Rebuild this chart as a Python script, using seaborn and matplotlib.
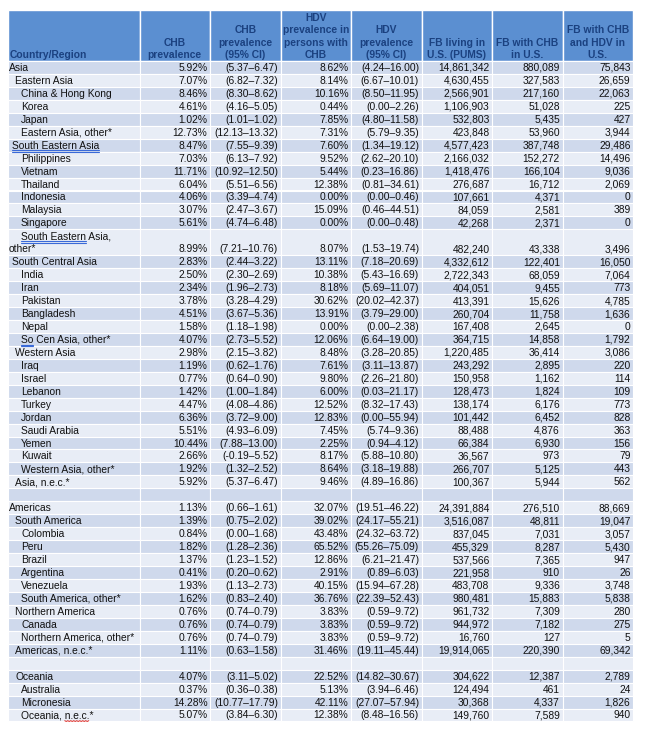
import matplotlib
matplotlib.use("Agg")
import matplotlib.pyplot as plt
from matplotlib.patches import Rectangle
import numpy as np
import seaborn as sns

sns.set_theme(style="white")
plt.rcParams["font.family"] = ["Liberation Sans", "DejaVu Sans"]

# ---- data ----
headers = ["Country/Region", "CHB\nprevalence", "CHB\nprevalence\n(95% CI)",
           "HDV\nprevalence in\npersons with\nCHB", "HDV\nprevalence\n(95% CI)",
           "FB living in\nU.S. (PUMS)", "FB with CHB\nin U.S.", "FB with CHB\nand HDV in\nU.S."]

regions = ["Asia", "Eastern Asia", "China & Hong Kong", "Korea", "Japan", "Eastern Asia, other*",
           "South Eastern Asia", "Philippines", "Vietnam", "Thailand", "Indonesia", "Malaysia",
           "Singapore", "South Eastern Asia,\nother*", "South Central Asia", "India", "Iran",
           "Pakistan", "Bangladesh", "Nepal", "So Cen Asia, other*", "Western Asia", "Iraq",
           "Israel", "Lebanon", "Turkey", "Jordan", "Saudi Arabia", "Yemen", "Kuwait",
           "Western Asia, other*", "Asia, n.e.c.*", "",
           "Americas", "South America", "Colombia", "Peru", "Brazil", "Argentina", "Venezuela",
           "South America, other*", "Northern America", "Canada", "Northern America, other*",
           "Americas, n.e.c.*", "",
           "Oceania", "Australia", "Micronesia", "Oceania, n.e.c.*"]

levels = [0, 1, 2, 2, 2, 2, 0.5, 2, 2, 2, 2, 2, 2, 2, 0.5, 2, 2, 2, 2, 2, 2, 1, 2, 2, 2, 2,
          2, 2, 2, 2, 2, 1, 0,
          0, 1, 2, 2, 2, 2, 2, 2, 1, 2, 2, 1, 0,
          1, 2, 2, 2]

chb = [5.92, 7.07, 8.46, 4.61, 1.02, 12.73, 8.47, 7.03, 11.71, 6.04, 4.06, 3.07, 5.61, 8.99,
       2.83, 2.50, 2.34, 3.78, 4.51, 1.58, 4.07, 2.98, 1.19, 0.77, 1.42, 4.47, 6.36, 5.51,
       10.44, 2.66, 1.92, 5.92, None,
       1.13, 1.39, 0.84, 1.82, 1.37, 0.41, 1.93, 1.62, 0.76, 0.76, 0.76, 1.11, None,
       4.07, 0.37, 14.28, 5.07]
chb_lo = [5.37, 6.82, 8.30, 4.16, 1.01, 12.13, 7.55, 6.13, 10.92, 5.51, 3.39, 2.47, 4.74, 7.21,
          2.44, 2.30, 1.96, 3.28, 3.67, 1.18, 2.73, 2.15, 0.62, 0.64, 1.00, 4.08, 3.72, 4.93,
          7.88, -0.19, 1.32, 5.37, None,
          0.66, 0.75, 0.00, 1.28, 1.23, 0.20, 1.13, 0.83, 0.74, 0.74, 0.74, 0.63, None,
          3.11, 0.36, 10.77, 3.84]
chb_hi = [6.47, 7.32, 8.62, 5.05, 1.02, 13.32, 9.39, 7.92, 12.50, 6.56, 4.74, 3.67, 6.48, 10.76,
          3.22, 2.69, 2.73, 4.29, 5.36, 1.98, 5.52, 3.82, 1.76, 0.90, 1.84, 4.86, 9.00, 6.09,
          13.00, 5.52, 2.52, 6.47, None,
          1.61, 2.02, 1.68, 2.36, 1.52, 0.62, 2.73, 2.40, 0.79, 0.79, 0.79, 1.58, None,
          5.02, 0.38, 17.79, 6.30]
hdv = [8.62, 8.14, 10.16, 0.44, 7.85, 7.31, 7.60, 9.52, 5.44, 12.38, 0.00, 15.09, 0.00, 8.07,
       13.11, 10.38, 8.18, 30.62, 13.91, 0.00, 12.06, 8.48, 7.61, 9.80, 6.00, 12.52, 12.83,
       7.45, 2.25, 8.17, 8.64, 9.46, None,
       32.07, 39.02, 43.48, 65.52, 12.86, 2.91, 40.15, 36.76, 3.83, 3.83, 3.83, 31.46, None,
       22.52, 5.13, 42.11, 12.38]
hdv_lo = [4.24, 6.67, 8.50, 0.00, 4.80, 5.79, 1.34, 2.62, 0.23, 0.81, 0.00, 0.46, 0.00, 1.53,
          7.18, 5.43, 5.69, 20.02, 3.79, 0.00, 6.64, 3.28, 3.11, 2.26, 0.03, 8.32, 0.00,
          5.74, 0.94, 5.88, 3.18, 4.89, None,
          19.51, 24.17, 24.32, 55.26, 6.21, 0.89, 15.94, 22.39, 0.59, 0.59, 0.59, 19.11, None,
          14.82, 3.94, 27.07, 8.48]
hdv_hi = [16.00, 10.01, 11.95, 2.26, 11.58, 9.35, 19.12, 20.10, 16.86, 34.61, 0.46, 44.51, 0.48,
          19.74, 20.69, 16.69, 11.07, 42.37, 29.00, 2.38, 19.00, 20.85, 13.87, 21.80, 21.17,
          17.43, 55.94, 9.36, 4.12, 10.80, 19.88, 16.86, None,
          46.22, 55.21, 63.72, 75.09, 21.47, 6.03, 67.28, 52.43, 9.72, 9.72, 9.72, 45.44, None,
          30.67, 6.46, 57.94, 16.56]
fb_living = [14861342, 4630455, 2566901, 1106903, 532803, 423848, 4577423, 2166032, 1418476,
             276687, 107661, 84059, 42268, 482240, 4332612, 2722343, 404051, 413391, 260704,
             167408, 364715, 1220485, 243292, 150958, 128473, 138174, 101442, 88488, 66384,
             36567, 266707, 100367, None,
             24391884, 3516087, 837045, 455329, 537566, 221958, 483708, 980481, 961732,
             944972, 16760, 19914065, None,
             304622, 124494, 30368, 149760]
fb_chb = [880089, 327583, 217160, 51028, 5435, 53960, 387748, 152272, 166104, 16712, 4371,
          2581, 2371, 43338, 122401, 68059, 9455, 15626, 11758, 2645, 14858, 36414, 2895,
          1162, 1824, 6176, 6452, 4876, 6930, 973, 5125, 5944, None,
          276510, 48811, 7031, 8287, 7365, 910, 9336, 15883, 7309, 7182, 127, 220390, None,
          12387, 461, 4337, 7589]
fb_chb_hdv = [75843, 26659, 22063, 225, 427, 3944, 29486, 14496, 9036, 2069, 0, 389, 0, 3496,
              16050, 7064, 773, 4785, 1636, 0, 1792, 3086, 220, 114, 109, 773, 828, 363, 156,
              79, 443, 562, None,
              88669, 19047, 3057, 5430, 947, 26, 3748, 5838, 280, 275, 5, 69342, None,
              2789, 24, 1826, 940]

# words flagged by the spell checker in the source slide: (row, prefix, word, colour)
flagged = [(6, "", "South Eastern Asia", "blue"), (13, "", "South Eastern", "blue"),
           (20, "", "So", "blue"), (49, "Oceania, ", "n.e.c.", "red")]

# ---- style ----
HEAD_BG = "#5b8fd1"
HEAD_FG = "#1b4180"
BAND_DARK = "#cfd9ec"
BAND_LIGHT = "#e8edf6"
TXT = "#111111"
FS = 7.4

col_edges = [8, 139.5, 210, 280.5, 351, 421.5, 492, 562.5, 633]
head_top, head_bot = 10, 61
row_h = 12.95


def pct(v):
    return "" if v is None else f"{v:.2f}%"


def ci(lo, hi):
    return "" if lo is None else f"({lo:.2f}\u2013{hi:.2f})"


def num(v):
    return "" if v is None else f"{v:,}"


fig = plt.figure(figsize=(6.46, 7.30), dpi=100)
ax = fig.add_axes([0, 0, 1, 1])
ax.set_xlim(0, 646)
ax.set_ylim(730, 0)
ax.axis("off")
renderer = fig.canvas.get_renderer()


def text_width(s):
    t = ax.text(0, 0, s, fontsize=FS)
    bb = t.get_window_extent(renderer)
    t.remove()
    return bb.width  # 1 data unit == 1 pixel here


# header
for j, h in enumerate(headers):
    x0, x1 = col_edges[j], col_edges[j + 1]
    ax.add_patch(Rectangle((x0, head_top), x1 - x0, head_bot - head_top,
                           facecolor=HEAD_BG, edgecolor="white", lw=1))
    if j == 0:
        ax.text(x0 + 2, head_bot - 1.0, h, ha="left", va="bottom", fontsize=FS,
                fontweight="bold", color=HEAD_FG, linespacing=1.3)
    else:
        ax.text((x0 + x1) / 2, head_bot - 1.0, h, ha="center", va="bottom", fontsize=FS,
                fontweight="bold", color=HEAD_FG, linespacing=1.3, multialignment="center")

# body
row_x = []
row_first_y = []
y = head_bot
for i, name in enumerate(regions):
    nlines = name.count("\n") + 1
    h = row_h * nlines
    fill = BAND_DARK if i % 2 == 0 else BAND_LIGHT
    for j in range(8):
        x0, x1 = col_edges[j], col_edges[j + 1]
        ax.add_patch(Rectangle((x0, y), x1 - x0, h, facecolor=fill, edgecolor="white", lw=0.8))
    yc = y + h - row_h / 2 + 0.5
    xl = 9 + 6 * levels[i]
    row_x.append(xl)
    row_first_y.append(y + row_h / 2 + 0.5)
    if nlines == 2:
        first, second = name.split("\n")
        ax.text(xl, y + row_h / 2 + 0.5, first, ha="left", va="center", fontsize=FS, color=TXT)
        ax.text(9, yc, second, ha="left", va="center", fontsize=FS, color=TXT)
    else:
        ax.text(xl, yc, name, ha="left", va="center", fontsize=FS, color=TXT)
    cells = [pct(chb[i]), ci(chb_lo[i], chb_hi[i]), pct(hdv[i]), ci(hdv_lo[i], hdv_hi[i]),
             num(fb_living[i]), num(fb_chb[i]), num(fb_chb_hdv[i])]
    for j, s in enumerate(cells, start=1):
        ax.text(col_edges[j + 1] - 2.5, yc, s, ha="right", va="center", fontsize=FS, color=TXT)
    y += h

# spell-check marks
for i, prefix, word, colour in flagged:
    xa = row_x[i] + (text_width(prefix + "x") - text_width("x") if prefix else 0)
    xb = xa + text_width(word)
    yb = row_first_y[i] + 4.6
    if colour == "blue":
        ax.plot([xa, xb], [yb, yb], color="#3a6ad8", lw=0.8)
        ax.plot([xa, xb], [yb + 1.6, yb + 1.6], color="#3a6ad8", lw=0.8)
    else:
        xs = np.arange(xa, xb + 0.01, 1.5)
        ys = yb + 0.6 + 0.8 * (np.arange(len(xs)) % 2)
        ax.plot(xs, ys, color="#e0302a", lw=0.7)

fig.savefig("out.png", dpi=100)
